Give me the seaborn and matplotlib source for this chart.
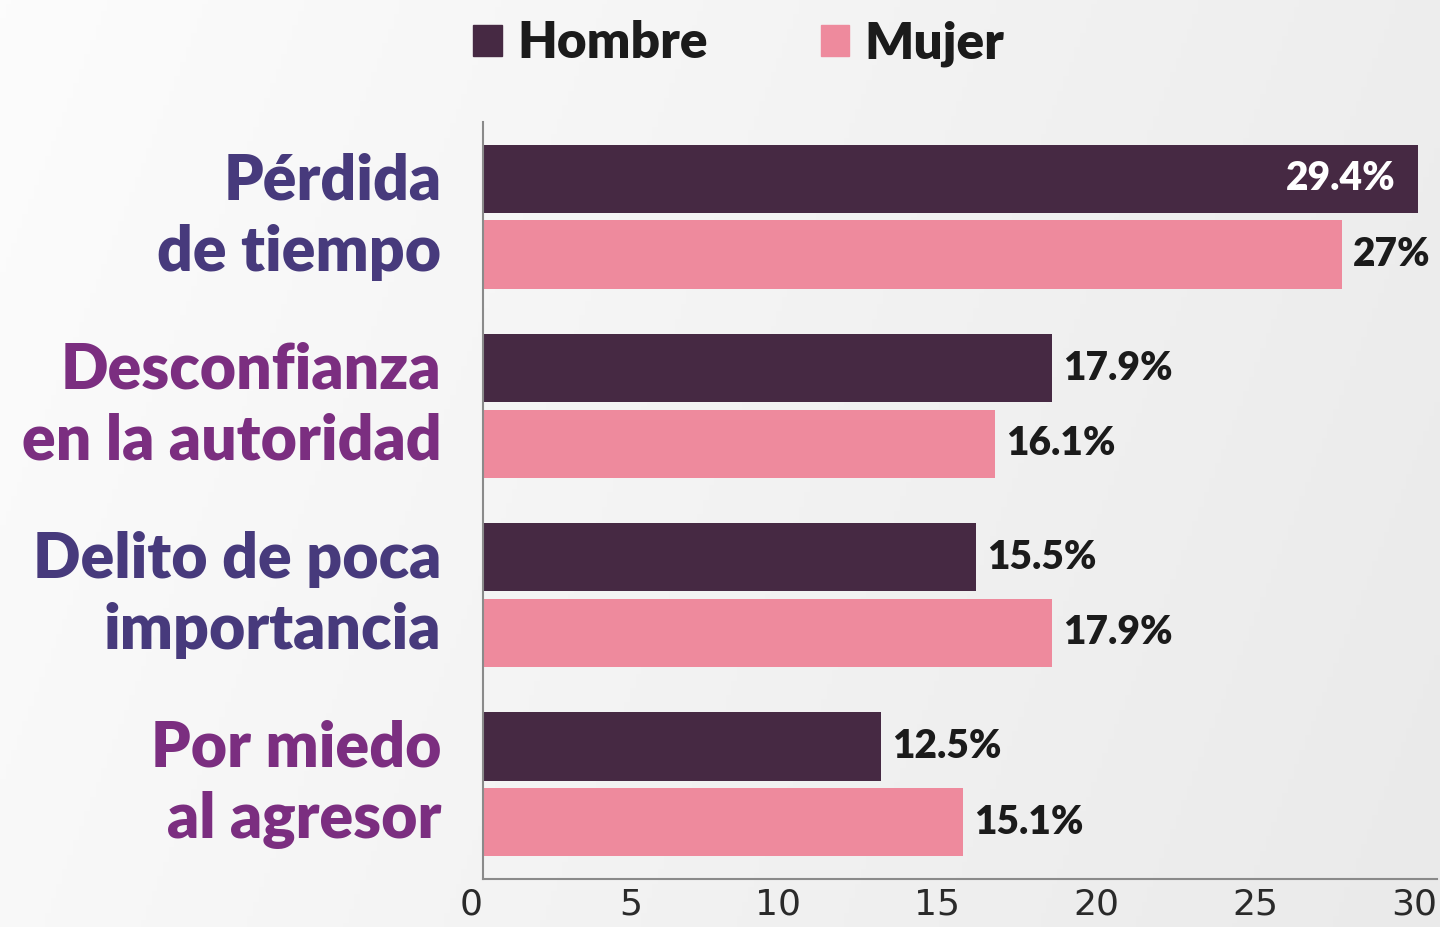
import matplotlib
matplotlib.use("Agg")
import matplotlib.pyplot as plt
import numpy as np
import pandas as pd
import seaborn as sns

# data
motivos = ["Pérdida\nde tiempo", "Desconfianza\nen la autoridad",
           "Delito de poca\nimportancia", "Por miedo\nal agresor"]
hombre = [29.4, 17.9, 15.5, 12.5]
mujer = [27.0, 16.1, 17.9, 15.1]
sexos = ["Hombre", "Mujer"]
x_ticks = [0, 5, 10, 15, 20, 25, 30]

col_hombre = "#462943"
col_mujer = "#ee8a9d"
label_colors = ["#473a7c", "#7b2e80", "#473a7c", "#7b2e80"]

df = pd.DataFrame({
    "motivo": motivos * 2,
    "pct": hombre + mujer,
    "sexo": [sexos[0]] * 4 + [sexos[1]] * 4,
})

sns.set_theme(style="white")
plt.rcParams["font.family"] = ["Lato", "DejaVu Sans"]

fig = plt.figure(figsize=(14.4, 9.27), dpi=100)

# soft grey background gradient (white top-left, light grey right)
bg = fig.add_axes([0, 0, 1, 1], zorder=-10)
grad = np.linspace(0, 1, 256)
gx, gy = np.meshgrid(grad, grad)
bg.imshow(0.8 * gx + 0.2 * gy, cmap=sns.blend_palette(["#fcfcfc", "#eaeaea"], as_cmap=True),
          aspect="auto", extent=[0, 1, 0, 1], vmin=0, vmax=1)
bg.axis("off")

ax = fig.add_axes([0.3354, 0.0518, 0.6626, 0.8166])
ax.set_facecolor("none")

sns.barplot(data=df, y="motivo", x="pct", hue="sexo", orient="h",
            palette=[col_hombre, col_mujer], width=0.8, gap=0.1,
            saturation=1, legend=False, linewidth=0, ax=ax)

ax.set_xlim(0, 30)
ax.set_xticks(x_ticks, labels=[str(t) for t in x_ticks], ha="right",
              fontfamily=["Liberation Sans Narrow", "DejaVu Sans"])
ax.set_xlabel("")
ax.set_ylabel("")

# value labels
for i, cont in enumerate(ax.containers):
    vals = hombre if i == 0 else mujer
    labels = [f"{v:g}%" for v in vals]
    for bar, lab, v in zip(cont, labels, vals):
        yc = bar.get_y() + bar.get_height() / 2
        if v > 28:
            ax.text(v - 0.7, yc, lab, ha="right", va="center", color="white",
                    fontsize=28, fontweight="heavy")
        else:
            ax.text(v + 0.35, yc, lab, ha="left", va="center", color="#1b1b1b",
                    fontsize=28, fontweight="heavy")

sns.despine(ax=ax, top=True, right=True)
for s in ["left", "bottom"]:
    ax.spines[s].set_color("#8a8a8a")
    ax.spines[s].set_linewidth(1.5)

ax.tick_params(axis="x", direction="in", length=18, width=1.2, color="#8a8a8a",
               pad=6, labelsize=26, labelcolor="#2a2a2a")
ax.tick_params(axis="y", direction="in", length=16, width=1.2, color="#9a9a9a",
               pad=30)

for lab, c in zip(ax.get_yticklabels(), label_colors):
    lab.set_color(c)
    lab.set_fontsize(45)
    lab.set_fontweight("heavy")
    lab.set_linespacing(1.3)
    lab.set_ha("right")
    lab.set_va("center")

# legend
handles = [plt.Rectangle((0, 0), 1, 1, color=col_hombre),
           plt.Rectangle((0, 0), 1, 1, color=col_mujer)]
leg = fig.legend(handles, sexos, loc="center", bbox_to_anchor=(0.513, 0.953),
                 ncol=2, frameon=False, handlelength=0.55, handleheight=0.55,
                 handletextpad=0.3, columnspacing=2.2,
                 prop={"size": 37, "weight": "heavy"})
for t in leg.get_texts():
    t.set_color("#1b1b1b")

fig.savefig("out.png", dpi=100)
